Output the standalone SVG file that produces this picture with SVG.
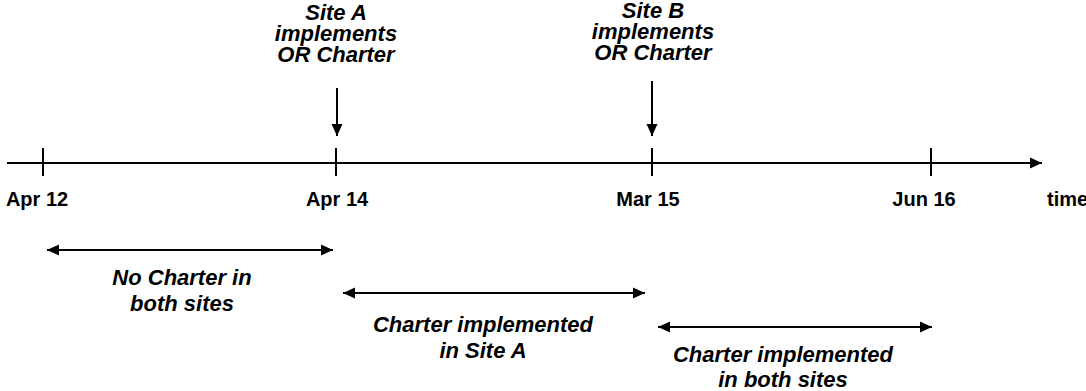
<svg xmlns="http://www.w3.org/2000/svg" width="1086" height="391" viewBox="0 0 1086 391">
<defs>
<marker id="ah" viewBox="0 0 12 12" refX="12" refY="6" markerWidth="12" markerHeight="12" markerUnits="userSpaceOnUse" orient="auto-start-reverse">
<path d="M0,0.5 L12,6 L0,11.5 Z" fill="#000"/>
</marker>
<style>
.ln{stroke:#000;stroke-width:2;fill:none}
.lbl{font-family:"Liberation Sans",Arial,sans-serif;font-size:22px;font-weight:bold;font-style:italic;fill:#000;text-anchor:middle}
.date{font-family:"Liberation Sans",Arial,sans-serif;font-size:20px;font-weight:bold;fill:#000;text-anchor:middle}
</style>
</defs>
<rect width="1086" height="391" fill="#fff"/>
<g id="connectors">
<line class="ln" x1="7" y1="163" x2="1042" y2="163" marker-end="url(#ah)"/>
<line class="ln" x1="337" y1="88" x2="337" y2="136" marker-end="url(#ah)"/>
<line class="ln" x1="652" y1="81" x2="652" y2="136" marker-end="url(#ah)"/>
<line class="ln" x1="47" y1="250" x2="333" y2="250" marker-start="url(#ah)" marker-end="url(#ah)"/>
<line class="ln" x1="343" y1="293" x2="645" y2="293" marker-start="url(#ah)" marker-end="url(#ah)"/>
<line class="ln" x1="658" y1="327" x2="932" y2="327" marker-start="url(#ah)" marker-end="url(#ah)"/>
</g>
<g id="tick-apr12"><line class="ln" x1="43" y1="148" x2="43" y2="176"/><text class="date" x="37" y="206">Apr 12</text></g>
<g id="tick-apr14"><line class="ln" x1="336" y1="148" x2="336" y2="176"/><text class="date" x="337" y="206">Apr 14</text></g>
<g id="tick-mar15"><line class="ln" x1="652" y1="148" x2="652" y2="176"/><text class="date" x="648" y="206">Mar 15</text></g>
<g id="tick-jun16"><line class="ln" x1="931" y1="148" x2="931" y2="176"/><text class="date" x="924" y="206">Jun 16</text></g>
<g id="time-label"><text class="date" x="1047" y="206" style="text-anchor:start">time</text></g>
<g id="site-a"><text class="lbl" x="336" y="20"><tspan x="336">Site A</tspan><tspan x="336" dy="21">implements</tspan><tspan x="336" dy="21">OR Charter</tspan></text></g>
<g id="site-b"><text class="lbl" x="653" y="18"><tspan x="653">Site B</tspan><tspan x="653" dy="21">implements</tspan><tspan x="653" dy="21">OR Charter</tspan></text></g>
<g id="period-1"><text class="lbl" x="182" y="285"><tspan x="182">No Charter in</tspan><tspan x="182" dy="25.5">both sites</tspan></text></g>
<g id="period-2"><text class="lbl" x="483" y="332"><tspan x="483">Charter implemented</tspan><tspan x="483" dy="25.5">in Site A</tspan></text></g>
<g id="period-3"><text class="lbl" x="783" y="362"><tspan x="783">Charter implemented</tspan><tspan x="783" dy="25">in both sites</tspan></text></g>
</svg>
